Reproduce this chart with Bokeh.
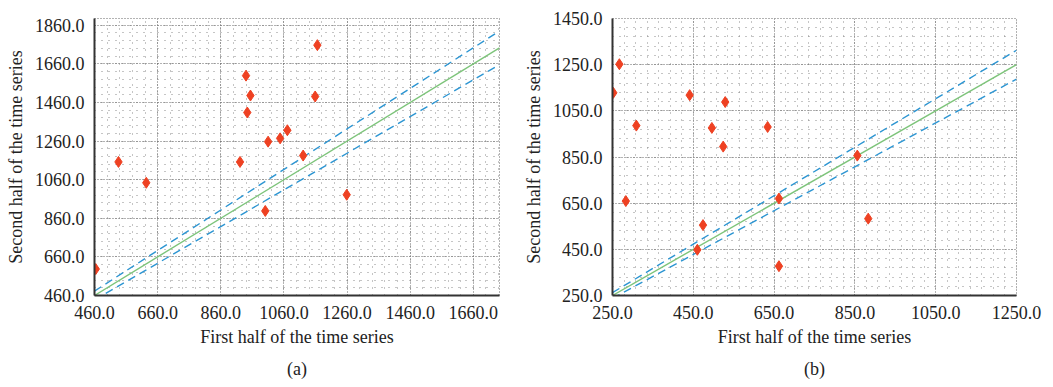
from bokeh.plotting import figure
from bokeh.layouts import row
from bokeh.models import FixedTicker, NumeralTickFormatter, Range1d, Title, ColumnDataSource
from bokeh.embed import file_html
from bokeh.resources import INLINE

# ---- data panel (a)
a_first = [464, 536, 624, 921, 940, 954, 944, 1001, 1010, 1048, 1071, 1121, 1159, 1166, 1259]
a_second = [597, 1152, 1044, 1152, 1599, 1496, 1408, 898, 1257, 1274, 1316, 1185, 1491, 1757, 982]
a_ticks_x = [460, 660, 860, 1060, 1260, 1460, 1660]
a_ticks_y = [460, 660, 860, 1060, 1260, 1460, 1660, 1860]

# ---- data panel (b)
b_first = [252, 267, 283, 309, 441, 474, 460, 496, 524, 529, 634, 662, 662, 856, 883]
b_second = [1128, 1252, 659, 986, 1118, 555, 448, 976, 895, 1088, 980, 670, 377, 856, 583]
b_ticks_x = [250, 450, 650, 850, 1050, 1250]
b_ticks_y = [250, 450, 650, 850, 1050, 1250, 1450]

band = [1.0, 1.05, 0.95]  # y = k * x reference lines

FONT = "Liberation Serif"
RED = "#EE4122"
GREEN = "#7DC47A"
BLUE = "#2C95D2"


def make_panel(xs, ys, xticks, yticks, xr, yr, caption, width, height, bl, br, bt, bb, xminor, yminor):
    p = figure(width=width, height=height, output_backend="svg", toolbar_location=None,
               x_range=Range1d(*xr), y_range=Range1d(*yr),
               min_border_left=bl, min_border_right=br, min_border_top=bt, min_border_bottom=bb)
    p.background_fill_color = "white"
    p.border_fill_color = "white"
    p.outline_line_color = "#666666"
    p.outline_line_dash = "1 2"
    p.outline_line_width = 1

    # reference lines
    x0, x1 = xr
    p.line([x0, x1], [x0 * band[0], x1 * band[0]], line_color=GREEN, line_width=1.4)
    for k in band[1:]:
        p.line([x0, x1], [x0 * k, x1 * k], line_color=BLUE, line_width=1.4, line_dash="8 5")

    src = ColumnDataSource(dict(x=xs, y=ys))
    p.scatter("x", "y", source=src, marker="diamond", size=11, fill_color=RED, line_color=RED)

    for ax, ticks, minor in ((p.xaxis[0], xticks, xminor), (p.yaxis[0], yticks, yminor)):
        step = (ticks[1] - ticks[0]) / minor
        lo = ticks[0] - step * minor
        mins = []
        v = lo
        while v <= ticks[-1] + (ticks[1] - ticks[0]) * 2:
            mins.append(v)
            v += step
        ax.ticker = FixedTicker(ticks=ticks, minor_ticks=mins)
        ax.formatter = NumeralTickFormatter(format="0.0")
        ax.major_tick_line_color = None
        ax.minor_tick_line_color = None
        ax.major_tick_out = 0
        ax.major_tick_in = 0
        ax.minor_tick_out = 0
        ax.minor_tick_in = 0
        ax.axis_line_color = "#333333"
        ax.axis_line_width = 2
        ax.major_label_text_font = FONT
        ax.major_label_text_font_size = "18px"
        ax.major_label_text_color = "#222222"
        ax.axis_label_text_font = FONT
        ax.axis_label_text_font_size = "18px"
        ax.axis_label_text_font_style = "normal"
        ax.axis_label_text_color = "#222222"

    p.xaxis.major_label_standoff = 10
    p.yaxis.major_label_standoff = 10
    p.xaxis.axis_label = "First half of the time series"
    p.yaxis.axis_label = "Second half of the time series"
    p.xaxis.axis_label_standoff = 5
    p.yaxis.axis_label_standoff = 6

    for g in (p.xgrid[0], p.ygrid[0]):
        g.grid_line_color = "#666666"
        g.grid_line_dash = "1 2"
        g.grid_line_width = 1
        g.minor_grid_line_color = "#8a8a8a"
        g.minor_grid_line_dash = "1 6"
        g.minor_grid_line_width = 1

    cap = Title(text=caption, align="center", text_font=FONT, text_font_size="18px",
                text_font_style="normal", text_color="#222222", standoff=15)
    p.add_layout(cap, "below")
    return p


pa = make_panel(a_first, a_second, a_ticks_x, a_ticks_y, (460, 1743), (460, 1895), "(a)",
                520, 387, 94, 21, 18, 90, 5, 5)
pb = make_panel(b_first, b_second, b_ticks_x, b_ticks_y, (250, 1250), (250, 1450), "(b)",
                533, 387, 90, 37, 14, 92, 7, 5)

layout = row(pa, pb)
open("out.html", "w").write(file_html(layout, INLINE))
